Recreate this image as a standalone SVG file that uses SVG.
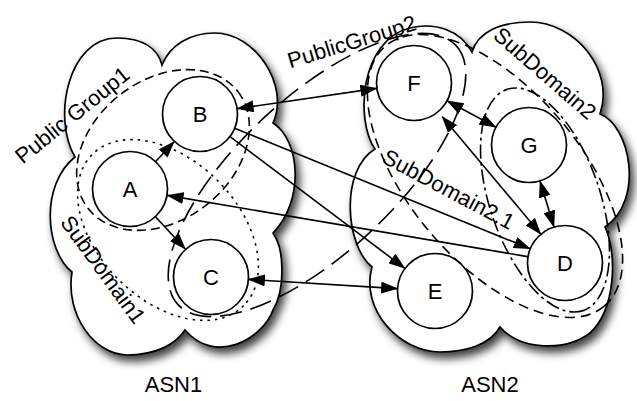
<svg xmlns="http://www.w3.org/2000/svg" width="637" height="401" viewBox="0 0 637 401">
<defs>
<filter id="shadow" x="-10%" y="-10%" width="130%" height="130%">
<feGaussianBlur in="SourceAlpha" stdDeviation="4.5"/>
<feOffset dx="4" dy="6"/>
<feComponentTransfer><feFuncA type="linear" slope="0.75"/></feComponentTransfer>
<feMerge><feMergeNode/><feMergeNode in="SourceGraphic"/></feMerge>
</filter>
<marker id="ah" viewBox="0 0 17 12" refX="16" refY="6" markerWidth="17" markerHeight="12" markerUnits="userSpaceOnUse" orient="auto-start-reverse"><path d="M0,0 L17,6 L0,12 z" fill="#000"/></marker>
<style>
.cloud{fill:#fff;stroke:#000;stroke-width:1.7;filter:url(#shadow)}
.grp{fill:none;stroke:#000;stroke-width:1.6}
.pg1{stroke-dasharray:9 5}
.pg2{stroke-dasharray:22 9}
.sd1{stroke-dasharray:2.5 5}
.sd21{stroke-dasharray:10 6}
.sd2{stroke-dasharray:14 4 3 4}
.node circle{fill:#fff;stroke:#000;stroke-width:1.7}
.edge{stroke:#000;stroke-width:1.6;fill:none}
.one{marker-end:url(#ah)}
.two{marker-start:url(#ah);marker-end:url(#ah)}
text{font-family:"Liberation Sans",Arial,Helvetica,sans-serif;font-size:22px;fill:#000;text-anchor:middle}
</style>
</defs>
<rect width="637" height="401" fill="#fff"/>
<g id="ASN1">
<path class="cloud" d="M75,157 C52,118 68,38 117,38 C145,38 158,50 162,65 C170,45 190,33 215,33 C255,33 290,85 273,123 C300,140 305,200 273,233 C285,250 285,290 273,310 C262,340 215,365 185,330 C175,345 155,355 127,355 C95,355 65,315 72,272 C45,250 40,185 75,157 Z"/>
<text x="173.5" y="392">ASN1</text>
</g>
<g id="ASN2">
<path class="cloud" d="M375,149 C355,120 360,40 410,28 C435,22 460,30 472,52 C478,32 500,22 530,22 C575,22 615,70 600,114 C630,125 645,200 605,227 C618,255 615,310 590,333 C565,352 520,350 500,327 C490,345 465,352 440,352 C400,352 360,310 372,267 C345,245 340,170 375,149 Z"/>
<text x="490" y="392">ASN2</text>
</g>
<g id="PublicGroup1">
<ellipse class="grp pg1" cx="163" cy="150" rx="95" ry="70" transform="rotate(-38 163 150)"/>
<text transform="translate(77 121) rotate(-39)">Public Group1</text>
</g>
<g id="SubDomain1">
<ellipse class="grp sd1" cx="168" cy="230" rx="107" ry="70" transform="rotate(45 168 230)"/>
<text transform="translate(97 274) rotate(54)">SubDomain1</text>
</g>
<g id="PublicGroup2">
<ellipse class="grp pg2" cx="317" cy="175" rx="190" ry="78" transform="rotate(-43 317 175)"/>
<text transform="translate(354 49) rotate(-17)">PublicGroup2</text>
</g>
<g id="SubDomain2.1">
<ellipse class="grp sd21" cx="495" cy="176" rx="170" ry="86" transform="rotate(50 495 176)"/>
<text transform="translate(445 196) rotate(28)">SubDomain2.1</text>
</g>
<g id="SubDomain2">
<ellipse class="grp sd2" cx="545" cy="200" rx="117" ry="55" transform="rotate(71 545 200)"/>
<text transform="translate(540 79) rotate(41)">SubDomain2</text>
</g>
<g id="connectors">
<line class="edge one" x1="155.9" y1="161.2" x2="174.1" y2="141.8"/>
<line class="edge one" x1="155.7" y1="217" x2="185.3" y2="249"/>
<line class="edge one" x1="527.5" y1="256.6" x2="167.5" y2="195.4"/>
<line class="edge one" x1="235.2" y1="128.4" x2="529.8" y2="248.6"/>
<line class="edge one" x1="230.4" y1="136.9" x2="404.6" y2="268.1"/>
<line class="edge two" x1="237.6" y1="108.6" x2="376.4" y2="88.4"/>
<line class="edge two" x1="248.9" y1="279.4" x2="397.1" y2="288.6"/>
<line class="edge two" x1="447.4" y1="101" x2="495.6" y2="127"/>
<line class="edge two" x1="442.3" y1="116.7" x2="540.6" y2="233.9"/>
<line class="edge two" x1="540.1" y1="181.3" x2="553.9" y2="226.7"/>
</g>
<g id="A" class="node"><circle cx="130" cy="189" r="37.5"/><text x="130" y="197">A</text></g>
<g id="B" class="node"><circle cx="200" cy="114" r="37.5"/><text x="200" y="122">B</text></g>
<g id="C" class="node"><circle cx="211" cy="277" r="37.5"/><text x="211" y="285">C</text></g>
<g id="F" class="node"><circle cx="414" cy="83" r="37.5"/><text x="414" y="91">F</text></g>
<g id="G" class="node"><circle cx="529" cy="145" r="37.5"/><text x="529" y="153">G</text></g>
<g id="D" class="node"><circle cx="565" cy="263" r="37.5"/><text x="565" y="271">D</text></g>
<g id="E" class="node"><circle cx="435" cy="291" r="37.5"/><text x="435" y="299">E</text></g>
</svg>
